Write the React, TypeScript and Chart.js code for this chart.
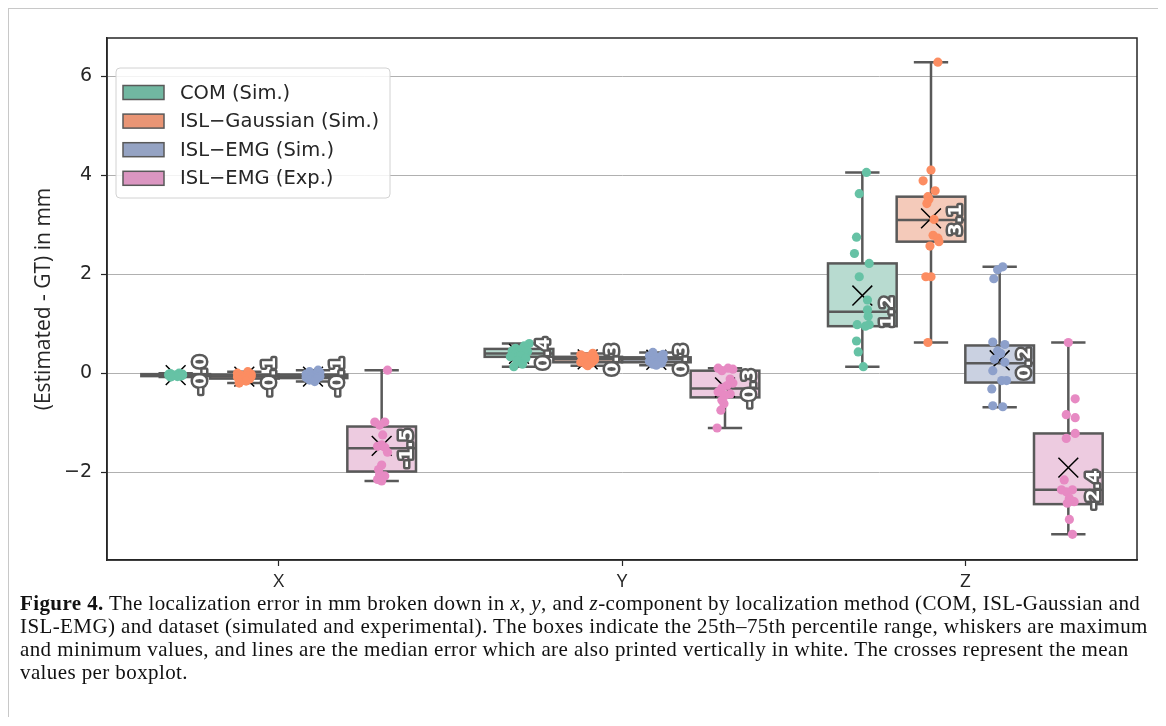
import React, { useEffect, useRef } from 'react';
import { Chart, registerables } from 'chart.js';

Chart.register(...registerables);

// ---------- data ----------
const categories = ['X', 'Y', 'Z'];
const seriesNames = ['COM (Sim.)', 'ISL−Gaussian (Sim.)', 'ISL−EMG (Sim.)', 'ISL−EMG (Exp.)'];
const yTicks = [-2, 0, 2, 4, 6];
const yMin = -3.78;
const yMax = 6.78;

// box stats per category: [min, q1, median, q3, max]
const comBox = [[-0.08, -0.06, -0.04, -0.02, 0.0], [0.13, 0.33, 0.40, 0.49, 0.60], [0.13, 0.95, 1.24, 2.22, 4.06]];
const gaussBox = [[-0.20, -0.11, -0.07, -0.03, 0.03], [0.15, 0.22, 0.28, 0.33, 0.40], [0.62, 2.66, 3.10, 3.57, 6.29]];
const emgSimBox = [[-0.17, -0.10, -0.07, -0.03, 0.06], [0.16, 0.22, 0.28, 0.32, 0.42], [-0.69, -0.19, 0.20, 0.56, 2.15]];
const emgExpBox = [[-2.18, -1.99, -1.52, -1.08, 0.06], [-1.11, -0.49, -0.31, 0.05, 0.10], [-3.26, -2.65, -2.36, -1.22, 0.62]];

// means per category
const comMean = [-0.04, 0.39, 1.57];
const gaussMean = [-0.07, 0.28, 3.13];
const emgSimMean = [-0.07, 0.27, 0.26];
const emgExpMean = [-1.47, -0.29, -1.91];

// individual errors per category
const comPts = [
  [0.0, -0.01, -0.02, -0.02, -0.03, -0.03, -0.04, -0.04, -0.04, -0.05, -0.05, -0.06, -0.06, -0.07, -0.08],
  [0.60, 0.55, 0.50, 0.47, 0.45, 0.44, 0.42, 0.40, 0.38, 0.35, 0.33, 0.30, 0.25, 0.18, 0.13],
  [4.06, 3.63, 2.75, 2.42, 2.22, 1.95, 1.48, 1.28, 1.15, 0.98, 0.98, 0.95, 0.65, 0.43, 0.13],
];
const gaussPts = [
  [0.03, 0.0, -0.02, -0.04, -0.05, -0.06, -0.07, -0.07, -0.08, -0.09, -0.10, -0.12, -0.14, -0.16, -0.20],
  [0.40, 0.37, 0.35, 0.33, 0.32, 0.30, 0.29, 0.28, 0.27, 0.25, 0.24, 0.22, 0.20, 0.18, 0.15],
  [6.29, 4.11, 3.89, 3.69, 3.57, 3.52, 3.43, 3.11, 2.79, 2.73, 2.66, 2.57, 1.95, 1.95, 0.62],
];
const emgSimPts = [
  [0.06, 0.03, 0.01, -0.02, -0.04, -0.05, -0.06, -0.07, -0.08, -0.08, -0.09, -0.10, -0.12, -0.14, -0.17],
  [0.42, 0.38, 0.35, 0.33, 0.31, 0.30, 0.29, 0.28, 0.27, 0.25, 0.24, 0.22, 0.20, 0.18, 0.16],
  [2.15, 2.09, 1.91, 0.63, 0.58, 0.45, 0.40, 0.28, 0.22, 0.05, -0.15, -0.15, -0.32, -0.66, -0.68],
];
const emgExpPts = [
  [0.06, -0.99, -0.99, -1.05, -1.25, -1.45, -1.48, -1.50, -1.60, -1.86, -1.95, -2.05, -2.08, -2.15, -2.18],
  [0.10, 0.10, 0.08, 0.05, -0.12, -0.20, -0.25, -0.30, -0.38, -0.42, -0.45, -0.55, -0.62, -0.75, -1.11],
  [0.62, -0.52, -0.84, -0.90, -1.22, -1.32, -2.16, -2.36, -2.36, -2.40, -2.53, -2.60, -2.63, -2.96, -3.26],
];

// strip-plot jitter (category units) read per point
const comJit = [
  [0.01, -0.015, 0.02, -0.02, 0.005, 0.015, -0.01, 0.02, -0.005, 0.01, -0.02, 0.015, -0.01, 0.005, -0.015],
  [0.03, 0.015, -0.01, 0.005, -0.02, 0.025, 0.0, 0.015, -0.01, 0.005, -0.025, 0.02, -0.005, 0.01, -0.015],
  [0.012, -0.009, -0.017, -0.023, 0.02, -0.009, 0.015, 0.015, 0.017, -0.015, 0.02, 0.009, -0.017, -0.012, 0.003],
];
const gaussJit = [
  [0.01, -0.02, 0.02, -0.01, 0.015, -0.015, 0.0, 0.02, -0.02, 0.01, -0.005, 0.015, -0.01, 0.005, -0.015],
  [0.015, -0.02, 0.01, -0.005, 0.02, -0.015, 0.005, 0.0, 0.02, -0.01, 0.015, -0.02, 0.01, -0.005, 0.0],
  [0.02, 0.0, -0.023, 0.012, -0.009, -0.006, -0.012, 0.009, 0.006, 0.02, 0.023, -0.003, -0.015, 0.0, -0.009],
];
const emgSimJit = [
  [0.015, -0.01, 0.02, -0.02, 0.005, 0.01, -0.015, 0.02, -0.005, 0.015, -0.02, 0.0, 0.01, -0.01, 0.005],
  [-0.01, 0.02, -0.02, 0.01, 0.0, 0.015, -0.015, 0.02, -0.005, 0.01, -0.02, 0.005, 0.015, -0.01, 0.0],
  [0.009, -0.006, -0.017, -0.02, 0.015, -0.006, 0.003, -0.015, 0.015, -0.02, 0.02, 0.006, -0.023, -0.02, 0.009],
];
const emgExpJit = [
  [0.017, -0.02, 0.009, -0.006, 0.003, 0.0, -0.012, 0.009, 0.017, 0.0, -0.009, -0.006, 0.009, -0.012, 0.0],
  [-0.02, 0.009, 0.023, -0.009, 0.015, 0.023, 0.006, -0.009, -0.02, 0.015, 0.0, -0.009, -0.003, -0.012, -0.023],
  [0.0, 0.02, -0.006, 0.02, 0.02, -0.006, -0.012, -0.02, 0.012, -0.006, 0.003, 0.017, -0.003, 0.003, 0.012],
];

// ---------- styles ----------
const pointColors = ['#66c2a5', '#fc8d62', '#8da0cb', '#e78ac3'];
const legendColors = ['#71b7a1', '#e99575', '#95a3c3', '#db96c1'];
const boxFill = ['#b8dbd0', '#f4caba', '#cad1e1', '#edcbe0'];
const edge = '#595959';
const ink = '#262626';

const allBoxes = [comBox, gaussBox, emgSimBox, emgExpBox];
const allMeans = [comMean, gaussMean, emgSimMean, emgExpMean];
const allPts = [comPts, gaussPts, emgSimPts, emgExpPts];
const allJit = [comJit, gaussJit, emgSimJit, emgExpJit];

const nHue = seriesNames.length;
const hueWidth = 0.8 / nHue;
const hueOffset = (h: number) => (h - (nHue - 1) / 2) * hueWidth;

const boxPlugin = {
  id: 'boxParts',
  afterDatasetDraw(chart: any, args: any) {
    const meta = args.meta;
    if (meta.type !== 'bar') return;
    const h = args.index;
    const ctx = chart.ctx;
    const ys = chart.scales.y;
    const py = (v: number) => ys.getPixelForValue(v);
    ctx.save();
    ctx.strokeStyle = edge;
    ctx.lineWidth = 2.5;
    meta.data.forEach((bar: any, c: number) => {
      const { x, width } = bar.getProps(['x', 'width'], true);
      const [mn, q1, md, q3, mx] = allBoxes[h][c];
      ctx.beginPath();
      ctx.moveTo(x, py(q3));
      ctx.lineTo(x, py(mx));
      ctx.moveTo(x, py(q1));
      ctx.lineTo(x, py(mn));
      ctx.moveTo(x - width / 4, py(mx));
      ctx.lineTo(x + width / 4, py(mx));
      ctx.moveTo(x - width / 4, py(mn));
      ctx.lineTo(x + width / 4, py(mn));
      ctx.stroke();
      ctx.strokeRect(x - width / 2, py(q3), width, py(q1) - py(q3));
      ctx.beginPath();
      ctx.moveTo(x - width / 2, py(md));
      ctx.lineTo(x + width / 2, py(md));
      ctx.stroke();
    });
    ctx.restore();
  },
  afterDatasetsDraw(chart: any) {
    const ctx = chart.ctx;
    const ys = chart.scales.y;
    const xs = chart.scales.x;
    const area = chart.chartArea;
    // median labels
    ctx.save();
    ctx.font = 'bold 18px "DejaVu Sans"';
    ctx.textAlign = 'center';
    ctx.textBaseline = 'middle';
    ctx.lineJoin = 'round';
    for (let h = 0; h < nHue; h++) {
      for (let c = 0; c < categories.length; c++) {
        const md = allBoxes[h][c][2];
        const px = xs.getPixelForValue(c + hueOffset(h) + 0.075);
        const pyv = ys.getPixelForValue(md);
        const txt = md.toFixed(1);
        ctx.save();
        ctx.translate(px, pyv);
        ctx.rotate(-Math.PI / 2);
        ctx.strokeStyle = edge;
        ctx.lineWidth = 5;
        ctx.strokeText(txt, 0, 0);
        ctx.fillStyle = '#ffffff';
        ctx.fillText(txt, 0, 0);
        ctx.restore();
      }
    }
    ctx.restore();
    // frame
    ctx.save();
    ctx.strokeStyle = ink;
    ctx.lineWidth = 1.5;
    ctx.strokeRect(area.left, area.top, area.right - area.left, area.bottom - area.top);
    ctx.restore();
    // legend
    const lx = area.left + 9;
    const ly = area.top + 30;
    const lw = 274;
    const lh = 130;
    ctx.save();
    ctx.beginPath();
    ctx.roundRect(lx, ly, lw, lh, 4);
    ctx.fillStyle = 'rgba(255,255,255,0.85)';
    ctx.fill();
    ctx.strokeStyle = '#d2d2d2';
    ctx.lineWidth = 1;
    ctx.stroke();
    ctx.font = '19.5px "DejaVu Sans"';
    ctx.textBaseline = 'middle';
    ctx.textAlign = 'left';
    seriesNames.forEach((name, i) => {
      const cy = ly + 24.5 + i * 28.6;
      ctx.fillStyle = legendColors[i];
      ctx.fillRect(lx + 7, cy - 7, 41, 14);
      ctx.strokeStyle = edge;
      ctx.lineWidth = 1.5;
      ctx.strokeRect(lx + 7, cy - 7, 41, 14);
      ctx.fillStyle = ink;
      ctx.fillText(name, lx + 64, cy + 1);
    });
    ctx.restore();
  },
};

export default function App() {
  const ref = useRef<HTMLCanvasElement>(null);
  useEffect(() => {
    const barSets = seriesNames.map((name, h) => ({
      type: 'bar' as const,
      label: name,
      data: allBoxes[h].map((b, c) => ({ x: c + hueOffset(h), y: [b[1], b[3]] })),
      backgroundColor: boxFill[h],
      borderWidth: 0,
      grouped: false,
      categoryPercentage: 1.0,
      barPercentage: 1.0,
      xAxisID: 'x',
      yAxisID: 'y',
      order: 3,
    }));
    const meanSet = {
      type: 'scatter' as const,
      label: 'mean',
      data: seriesNames.flatMap((_, h) => allMeans[h].map((m, c) => ({ x: c + hueOffset(h), y: m }))),
      pointStyle: 'crossRot',
      pointRadius: 14,
      borderColor: '#000000',
      backgroundColor: 'rgba(0,0,0,0)',
      borderWidth: 1.5,
      xAxisID: 'x',
      yAxisID: 'y',
      order: 2,
    };
    const pointSets = seriesNames.map((name, h) => ({
      type: 'scatter' as const,
      label: name + ' pts',
      data: allPts[h].flatMap((arr, c) => arr.map((v, i) => ({ x: c + hueOffset(h) + allJit[h][c][i], y: v }))),
      pointRadius: 4.6,
      borderWidth: 0,
      backgroundColor: pointColors[h],
      xAxisID: 'x',
      yAxisID: 'y',
      order: 1,
    }));
    const chart = new Chart(ref.current as HTMLCanvasElement, {
      type: 'bar',
      data: { datasets: [...barSets, meanSet, ...pointSets] as any },
      options: {
        animation: false,
        responsive: false,
        events: [],
        layout: { padding: { left: 0, right: 28, top: 29, bottom: 0 } },
        plugins: { legend: { display: false }, tooltip: { enabled: false } },
        scales: {
          x: {
            type: 'linear',
            min: -0.5,
            max: 2.5,
            offset: false,
            afterBuildTicks: (s: any) => { s.ticks = categories.map((_, i) => ({ value: i })); },
            grid: { display: true, drawOnChartArea: false, offset: false, tickLength: 6, tickColor: ink, tickWidth: 1.2 },
            border: { display: true, color: ink, width: 1.5 },
            ticks: {
              font: { family: 'Open Sans', size: 19 },
              color: ink,
              padding: 4,
              maxRotation: 0,
              autoSkip: false,
              callback: (v: any) => categories[Math.round(Number(v))] ?? '',
            },
            afterFit: (s: any) => { s.height = 39; },
          },
          y: {
            type: 'linear',
            min: yMin,
            max: yMax,
            afterBuildTicks: (s: any) => { s.ticks = yTicks.map((v) => ({ value: v })); },
            grid: { color: '#b0b0b0', lineWidth: 1, tickLength: 6, tickColor: ink, tickWidth: 1.2 },
            border: { display: true, color: ink, width: 1.5 },
            ticks: {
              font: { family: 'DejaVu Sans', size: 19 },
              color: ink,
              padding: 9,
              callback: (v: any) => (Number(v) < 0 ? '−' + Math.abs(Number(v)) : String(v)),
            },
            title: {
              display: true,
              text: '(Estimated - GT) in mm',
              font: { family: 'Open Sans', size: 21 },
              color: ink,
              padding: { top: 22, bottom: 0 },
            },
            afterFit: (s: any) => { s.width = 98; },
          },
        } as any,
      },
      plugins: [boxPlugin],
    });
    return () => chart.destroy();
  }, []);

  return (
    <div
      style={{
        position: 'relative',
        width: 1156,
        height: 708,
        borderTop: '1px solid #c8c8c8',
        borderLeft: '1px solid #c8c8c8',
        borderRight: '1px solid #c8c8c8',
        overflow: 'hidden',
      }}
    >
      <canvas ref={ref} width={1156} height={590} style={{ position: 'absolute', left: 0, top: 0, width: 1156, height: 590 }} />
      <div
        style={{
          position: 'absolute',
          left: 11,
          top: 583,
          fontFamily: '"Liberation Serif", serif',
          fontSize: 21,
          letterSpacing: '0.4px',
          lineHeight: '23px',
          color: '#111',
          whiteSpace: 'nowrap',
        }}
      >
        <b>Figure 4.</b> The localization error in mm broken down in <i>x</i>, <i>y</i>, and <i>z</i>-component by localization method (COM, ISL-Gaussian and
        <br />
        ISL-EMG) and dataset (simulated and experimental). The boxes indicate the 25th–75th percentile range, whiskers are maximum
        <br />
        and minimum values, and lines are the median error which are also printed vertically in white. The crosses represent the mean
        <br />
        values per boxplot.
      </div>
    </div>
  );
}
